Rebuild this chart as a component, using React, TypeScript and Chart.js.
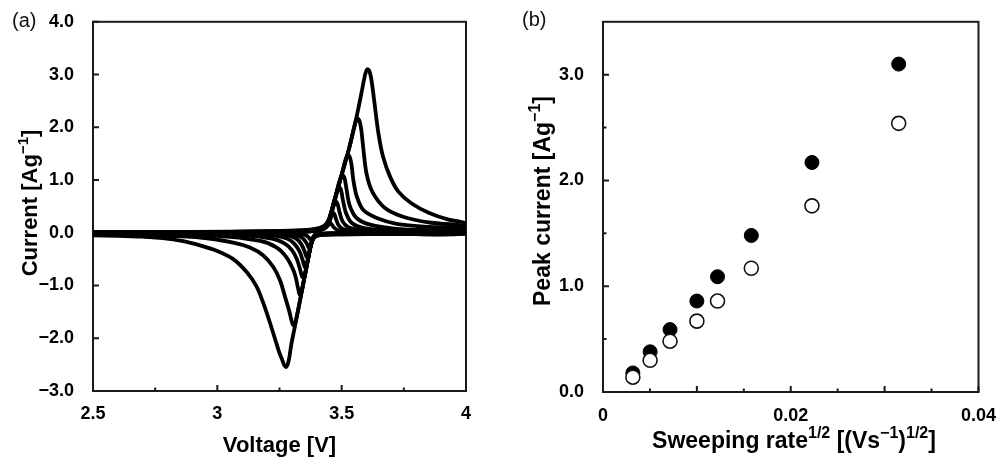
import { useEffect, useRef } from 'react';
import { Chart, registerables } from 'chart.js';

Chart.register(...registerables);

const FONT = '"Liberation Sans", Arial, Helvetica, sans-serif';

type Pt = [number, number];

// ---------- Panel (a): cyclic voltammograms, [voltage V, current A/g] ----------
const cv1: Pt[] = [
  [2.5, 0.003], [2.9, 0.004], [3.2, 0.008], [3.35, 0.018], [3.41, 0.05], [3.435, 0.09], [3.447, 0.15],
  [3.453, 0.18], [3.459, 0.165], [3.467, 0.11], [3.48, 0.06], [3.5, 0.03], [3.6, 0.012], [4.0, 0.006],
  [4.0, -0.003], [3.6, -0.005], [3.45, -0.01], [3.41, -0.018], [3.393, -0.04], [3.384, -0.11],
  [3.379, -0.14], [3.374, -0.125], [3.366, -0.08], [3.352, -0.04], [3.32, -0.02], [2.5, -0.005],
];
const cv2: Pt[] = [
  [2.5, 0.004], [2.9, 0.005], [3.2, 0.01], [3.35, 0.02], [3.41, 0.055], [3.435, 0.1], [3.45, 0.2],
  [3.459, 0.32], [3.465, 0.38], [3.471, 0.35], [3.478, 0.25], [3.488, 0.14], [3.505, 0.07], [3.55, 0.03],
  [3.7, 0.015], [4.0, 0.01],
  [4.0, -0.004], [3.6, -0.006], [3.45, -0.012], [3.41, -0.02], [3.393, -0.04], [3.382, -0.12],
  [3.375, -0.27], [3.371, -0.3], [3.366, -0.27], [3.358, -0.19], [3.345, -0.11], [3.325, -0.055],
  [3.28, -0.025], [2.5, -0.008],
];
const cv3: Pt[] = [
  [2.5, 0.005], [2.9, 0.007], [3.2, 0.012], [3.35, 0.025], [3.41, 0.06], [3.435, 0.11], [3.45, 0.23],
  [3.465, 0.48], [3.472, 0.57], [3.478, 0.59], [3.484, 0.54], [3.492, 0.38], [3.503, 0.22], [3.525, 0.11],
  [3.58, 0.05], [3.7, 0.025], [4.0, 0.015],
  [4.0, -0.005], [3.6, -0.008], [3.45, -0.015], [3.41, -0.025], [3.393, -0.045], [3.382, -0.12],
  [3.373, -0.3], [3.367, -0.44], [3.363, -0.48], [3.358, -0.45], [3.35, -0.34], [3.338, -0.22],
  [3.32, -0.12], [3.29, -0.06], [3.2, -0.025], [2.5, -0.01],
];
const cv4: Pt[] = [
  [2.5, 0.006], [2.9, 0.008], [3.2, 0.015], [3.35, 0.03], [3.41, 0.065], [3.435, 0.12], [3.45, 0.24],
  [3.47, 0.56], [3.482, 0.78], [3.49, 0.86], [3.497, 0.82], [3.505, 0.62], [3.517, 0.38], [3.54, 0.19],
  [3.59, 0.09], [3.7, 0.045], [4.0, 0.025],
  [4.0, -0.006], [3.6, -0.01], [3.45, -0.018], [3.41, -0.028], [3.393, -0.05], [3.382, -0.13],
  [3.373, -0.3], [3.362, -0.57], [3.356, -0.67], [3.35, -0.63], [3.342, -0.5], [3.33, -0.35],
  [3.31, -0.21], [3.28, -0.11], [3.22, -0.05], [3.0, -0.025], [2.5, -0.015],
];
const cv5: Pt[] = [
  [2.5, 0.008], [2.9, 0.01], [3.2, 0.018], [3.35, 0.035], [3.41, 0.07], [3.435, 0.13], [3.45, 0.25],
  [3.47, 0.58], [3.488, 0.93], [3.497, 1.05], [3.505, 1.09], [3.512, 1.03], [3.519, 0.84], [3.532, 0.52],
  [3.56, 0.28], [3.614, 0.155], [3.72, 0.075], [3.85, 0.05], [4.0, 0.04],
  [4.0, -0.008], [3.6, -0.012], [3.45, -0.02], [3.41, -0.03], [3.393, -0.055], [3.382, -0.14],
  [3.373, -0.3], [3.36, -0.62], [3.353, -0.79], [3.347, -0.86], [3.34, -0.82], [3.332, -0.68],
  [3.32, -0.5], [3.3, -0.33], [3.27, -0.2], [3.22, -0.11], [3.1, -0.05], [2.5, -0.02],
];
const cv6: Pt[] = [
  [2.5, 0.01], [2.9, 0.012], [3.2, 0.02], [3.35, 0.04], [3.41, 0.08], [3.435, 0.14], [3.45, 0.26],
  [3.47, 0.6], [3.5, 1.1], [3.514, 1.36], [3.524, 1.48], [3.533, 1.43], [3.54, 1.28], [3.547, 1.0],
  [3.56, 0.7], [3.587, 0.43], [3.641, 0.28], [3.721, 0.17], [3.855, 0.11], [4.0, 0.08],
  [4.0, -0.01], [3.6, -0.015], [3.45, -0.025], [3.41, -0.035], [3.393, -0.06], [3.382, -0.15],
  [3.373, -0.3], [3.353, -0.78], [3.345, -0.98], [3.338, -1.13], [3.331, -1.17], [3.325, -1.06],
  [3.316, -0.86], [3.306, -0.71], [3.279, -0.47], [3.239, -0.28], [3.172, -0.155], [3.0, -0.06],
  [2.5, -0.025],
];
const cv7: Pt[] = [
  [2.5, 0.01], [2.9, 0.015], [3.2, 0.025], [3.35, 0.045], [3.41, 0.085], [3.435, 0.15], [3.45, 0.27],
  [3.47, 0.6], [3.5, 1.1], [3.53, 1.6], [3.547, 1.94], [3.556, 2.1], [3.564, 2.17], [3.572, 2.12],
  [3.579, 1.95], [3.587, 1.6], [3.6, 1.12], [3.624, 0.77], [3.674, 0.47], [3.75, 0.3], [3.86, 0.19],
  [4.0, 0.12],
  [4.0, -0.01], [3.7, -0.02], [3.5, -0.03], [3.42, -0.04], [3.395, -0.07], [3.382, -0.15],
  [3.373, -0.3], [3.353, -0.78], [3.333, -1.27], [3.319, -1.6], [3.312, -1.73], [3.305, -1.75],
  [3.298, -1.66], [3.29, -1.5], [3.272, -1.21], [3.252, -0.9], [3.225, -0.65], [3.185, -0.43],
  [3.131, -0.28], [3.064, -0.186], [2.93, -0.09], [2.7, -0.05], [2.5, -0.035],
];
const cv8: Pt[] = [
  [2.5, 0.01], [2.9, 0.015], [3.2, 0.03], [3.35, 0.05], [3.41, 0.09], [3.435, 0.15], [3.45, 0.27],
  [3.47, 0.6], [3.5, 1.1], [3.53, 1.6], [3.56, 2.2], [3.58, 2.66], [3.589, 2.88], [3.596, 3.03],
  [3.603, 3.1], [3.61, 3.08], [3.617, 2.97], [3.624, 2.76], [3.632, 2.46], [3.648, 1.88],
  [3.667, 1.43], [3.695, 1.06], [3.728, 0.78], [3.78, 0.56], [3.85, 0.38], [3.93, 0.25], [4.0, 0.17],
  [4.0, -0.01], [3.7, -0.02], [3.5, -0.03], [3.42, -0.04], [3.395, -0.07], [3.382, -0.15],
  [3.373, -0.3], [3.353, -0.78], [3.333, -1.27], [3.31, -1.82], [3.297, -2.13], [3.29, -2.35],
  [3.284, -2.48], [3.277, -2.545], [3.269, -2.51], [3.261, -2.41], [3.25, -2.28], [3.239, -2.12],
  [3.212, -1.71], [3.185, -1.335], [3.158, -1.02], [3.118, -0.745], [3.064, -0.5], [2.997, -0.34],
  [2.93, -0.24], [2.863, -0.16], [2.78, -0.1], [2.7, -0.075], [2.6, -0.058], [2.5, -0.05],
];
const cvCurves: Pt[][] = [cv1, cv2, cv3, cv4, cv5, cv6, cv7, cv8];

const voltTicks = [2.5, 3, 3.5, 4];
const voltTickLabels = ['2.5', '3', '3.5', '4'];
const voltMinor = [2.75, 3.25, 3.75];
const currentTicks = [-3, -2, -1, 0, 1, 2, 3, 4];
const currentTickLabels = ['\u22123.0', '\u22122.0', '\u22121.0', '0.0', '1.0', '2.0', '3.0', '4.0'];

// ---------- Panel (b): peak current vs sqrt(sweep rate) ----------
const sqrtRate = [0.00318, 0.00502, 0.00714, 0.01, 0.0122, 0.0158, 0.02226, 0.0315];
const anodicPeak = [0.18, 0.38, 0.59, 0.86, 1.09, 1.48, 2.17, 3.1];
const cathodicPeak = [0.14, 0.3, 0.48, 0.67, 0.86, 1.17, 1.76, 2.54];
const rateTicks = [0, 0.02, 0.04];
const rateTickLabels = ['0', '0.02', '0.04'];
const rateMajorUnlabeled = [0.01, 0.03];
const rateMinor = [0.005, 0.015, 0.025, 0.035];
const peakTicks = [0, 1, 2, 3];
const peakTickLabels = ['0.0', '1.0', '2.0', '3.0'];
const peakMinor = [0.5, 1.5, 2.5];

type Seg = { t: string; sup?: boolean };

function drawRich(
  ctx: CanvasRenderingContext2D,
  segs: Seg[],
  cx: number,
  cy: number,
  size: number,
  rotate: boolean
) {
  const supSize = Math.round(size * 0.68);
  const mainFont = `bold ${size}px ${FONT}`;
  const supFont = `bold ${supSize}px ${FONT}`;
  let total = 0;
  const widths = segs.map((s) => {
    ctx.font = s.sup ? supFont : mainFont;
    const w = ctx.measureText(s.t).width;
    total += w;
    return w;
  });
  ctx.save();
  ctx.translate(cx, cy);
  if (rotate) ctx.rotate(-Math.PI / 2);
  ctx.fillStyle = '#000';
  ctx.textBaseline = 'alphabetic';
  ctx.textAlign = 'left';
  let x = -total / 2;
  segs.forEach((s, i) => {
    ctx.font = s.sup ? supFont : mainFont;
    ctx.fillText(s.t, x, s.sup ? -size * 0.42 : 0);
    x += widths[i];
  });
  ctx.restore();
}

type Deco = {
  xMajor: number[];
  xMinor: number[];
  yMajor: number[];
  yMinor: number[];
  xTitle: Seg[];
  yTitle: Seg[];
  titleSize: number;
  xTitleX: number;
  xTitleY: number;
  yTitleX: number;
  yTitleY: number;
  panel: string;
  panelX: number;
  panelY: number;
};

function decoPlugin(d: Deco) {
  return {
    id: 'deco',
    beforeDatasetsDraw(chart: any) {
      const { ctx, chartArea: a, scales } = chart;
      const xs = scales.x;
      const ys = scales.y;
      ctx.save();
      ctx.strokeStyle = '#1a1a1a';
      ctx.lineWidth = 2;
      ctx.strokeRect(a.left, a.top, a.right - a.left, a.bottom - a.top);
      ctx.beginPath();
      const major = 6;
      const minor = 3.5;
      d.xMajor.forEach((v) => {
        const p = xs.getPixelForValue(v);
        ctx.moveTo(p, a.bottom);
        ctx.lineTo(p, a.bottom - major);
      });
      d.xMinor.forEach((v) => {
        const p = xs.getPixelForValue(v);
        ctx.moveTo(p, a.bottom);
        ctx.lineTo(p, a.bottom - minor);
      });
      d.yMajor.forEach((v) => {
        const p = ys.getPixelForValue(v);
        ctx.moveTo(a.left, p);
        ctx.lineTo(a.left + major, p);
      });
      d.yMinor.forEach((v) => {
        const p = ys.getPixelForValue(v);
        ctx.moveTo(a.left, p);
        ctx.lineTo(a.left + minor, p);
      });
      ctx.stroke();
      ctx.restore();
    },
    afterDraw(chart: any) {
      const { ctx } = chart;
      drawRich(ctx, d.xTitle, d.xTitleX, d.xTitleY, d.titleSize, false);
      drawRich(ctx, d.yTitle, d.yTitleX, d.yTitleY, d.titleSize, true);
      ctx.save();
      ctx.font = `20px ${FONT}`;
      ctx.fillStyle = '#111';
      ctx.textAlign = 'left';
      ctx.textBaseline = 'alphabetic';
      ctx.fillText(d.panel, d.panelX, d.panelY);
      ctx.restore();
    },
  };
}

function fixedTicks(values: number[]) {
  return (scale: any) => {
    scale.ticks = values.map((v) => ({ value: v }));
  };
}

function labelFrom(values: number[], labels: string[]) {
  return (v: number | string) => {
    const i = values.findIndex((t) => Math.abs(t - Number(v)) < 1e-9);
    return i >= 0 ? labels[i] : '';
  };
}

const tickFont = { family: FONT, size: 18, weight: 'bold' as const };

function makeLeft(canvas: HTMLCanvasElement) {
  return new Chart(canvas, {
    type: 'scatter',
    data: {
      datasets: cvCurves.map((c) => ({
        data: c.map(([x, y]) => ({ x, y })),
        showLine: true,
        borderColor: '#000',
        borderWidth: 3.8,
        pointRadius: 0,
        tension: 0.3,
        fill: false,
        borderJoinStyle: 'round' as const,
        borderCapStyle: 'round' as const,
      })),
    },
    options: {
      animation: false,
      responsive: false,
      devicePixelRatio: 1,
      layout: { padding: { top: 15, right: 34, left: 0, bottom: 0 } },
      plugins: { legend: { display: false }, tooltip: { enabled: false } },
      scales: {
        x: {
          type: 'linear',
          min: 2.5,
          max: 4,
          grid: { display: false },
          border: { display: false },
          afterBuildTicks: fixedTicks(voltTicks),
          afterFit: (s: any) => {
            s.height = 71;
          },
          ticks: {
            color: '#000',
            font: tickFont,
            padding: 4,
            maxRotation: 0,
            autoSkip: false,
            callback: labelFrom(voltTicks, voltTickLabels),
          },
        },
        y: {
          type: 'linear',
          min: -3,
          max: 4,
          grid: { display: false },
          border: { display: false },
          afterBuildTicks: fixedTicks(currentTicks),
          afterFit: (s: any) => {
            s.width = 93;
          },
          ticks: {
            color: '#000',
            font: tickFont,
            padding: 11,
            autoSkip: false,
            callback: labelFrom(currentTicks, currentTickLabels),
          },
        },
      },
    },
    plugins: [
      decoPlugin({
        xMajor: voltTicks,
        xMinor: voltMinor,
        yMajor: currentTicks,
        yMinor: [],
        xTitle: [{ t: 'Voltage [V]' }],
        yTitle: [{ t: 'Current [Ag' }, { t: '\u22121', sup: true }, { t: ']' }],
        titleSize: 22,
        xTitleX: 279.5,
        xTitleY: 452,
        yTitleX: 37,
        yTitleY: 203,
        panel: '(a)',
        panelX: 12,
        panelY: 27,
      }),
    ],
  } as any);
}

function makeRight(canvas: HTMLCanvasElement) {
  return new Chart(canvas, {
    type: 'scatter',
    data: {
      datasets: [
        {
          label: 'cathodic',
          data: sqrtRate.map((x, i) => ({ x, y: cathodicPeak[i] })),
          pointRadius: 7,
          pointBackgroundColor: '#fff',
          pointBorderColor: '#111',
          pointBorderWidth: 1.6,
          showLine: false,
        },
        {
          label: 'anodic',
          data: sqrtRate.map((x, i) => ({ x, y: anodicPeak[i] })),
          pointRadius: 7,
          pointBackgroundColor: '#000',
          pointBorderColor: '#000',
          pointBorderWidth: 1,
          showLine: false,
        },
      ],
    },
    options: {
      animation: false,
      responsive: false,
      devicePixelRatio: 1,
      layout: { padding: { top: 15, right: 21, left: 0, bottom: 0 } },
      plugins: { legend: { display: false }, tooltip: { enabled: false } },
      scales: {
        x: {
          type: 'linear',
          min: 0,
          max: 0.04,
          grid: { display: false },
          border: { display: false },
          afterBuildTicks: fixedTicks(rateTicks),
          afterFit: (s: any) => {
            s.height = 70;
          },
          ticks: {
            color: '#000',
            font: tickFont,
            padding: 5,
            maxRotation: 0,
            autoSkip: false,
            callback: labelFrom(rateTicks, rateTickLabels),
          },
        },
        y: {
          type: 'linear',
          min: 0,
          max: 3.5,
          grid: { display: false },
          border: { display: false },
          afterBuildTicks: fixedTicks(peakTicks),
          afterFit: (s: any) => {
            s.width = 103;
          },
          ticks: {
            color: '#000',
            font: tickFont,
            padding: 11,
            autoSkip: false,
            callback: labelFrom(peakTicks, peakTickLabels),
          },
        },
      },
    },
    plugins: [
      decoPlugin({
        xMajor: [...rateTicks, ...rateMajorUnlabeled],
        xMinor: rateMinor,
        yMajor: peakTicks,
        yMinor: peakMinor,
        xTitle: [
          { t: 'Sweeping rate' },
          { t: '1/2', sup: true },
          { t: ' [(Vs' },
          { t: '\u22121', sup: true },
          { t: ')' },
          { t: '1/2', sup: true },
          { t: ']' },
        ],
        yTitle: [{ t: 'Peak current [Ag' }, { t: '\u22121', sup: true }, { t: ']' }],
        titleSize: 23,
        xTitleX: 294,
        xTitleY: 448,
        yTitleX: 50,
        yTitleY: 201,
        panel: '(b)',
        panelX: 22,
        panelY: 26,
      }),
    ],
  } as any);
}

export default function App() {
  const leftRef = useRef<HTMLCanvasElement>(null);
  const rightRef = useRef<HTMLCanvasElement>(null);

  useEffect(() => {
    if (!leftRef.current || !rightRef.current) return;
    const a = makeLeft(leftRef.current);
    const b = makeRight(rightRef.current);
    return () => {
      a.destroy();
      b.destroy();
    };
  }, []);

  return (
    <div
      style={{
        position: 'absolute',
        left: 0,
        top: 0,
        width: 1001,
        height: 462,
        background: '#fff',
        overflow: 'hidden',
      }}
    >
      <canvas
        ref={leftRef}
        width={500}
        height={462}
        style={{ position: 'absolute', left: 0, top: 0, width: 500, height: 462 }}
      />
      <canvas
        ref={rightRef}
        width={501}
        height={462}
        style={{ position: 'absolute', left: 500, top: 0, width: 501, height: 462 }}
      />
    </div>
  );
}
